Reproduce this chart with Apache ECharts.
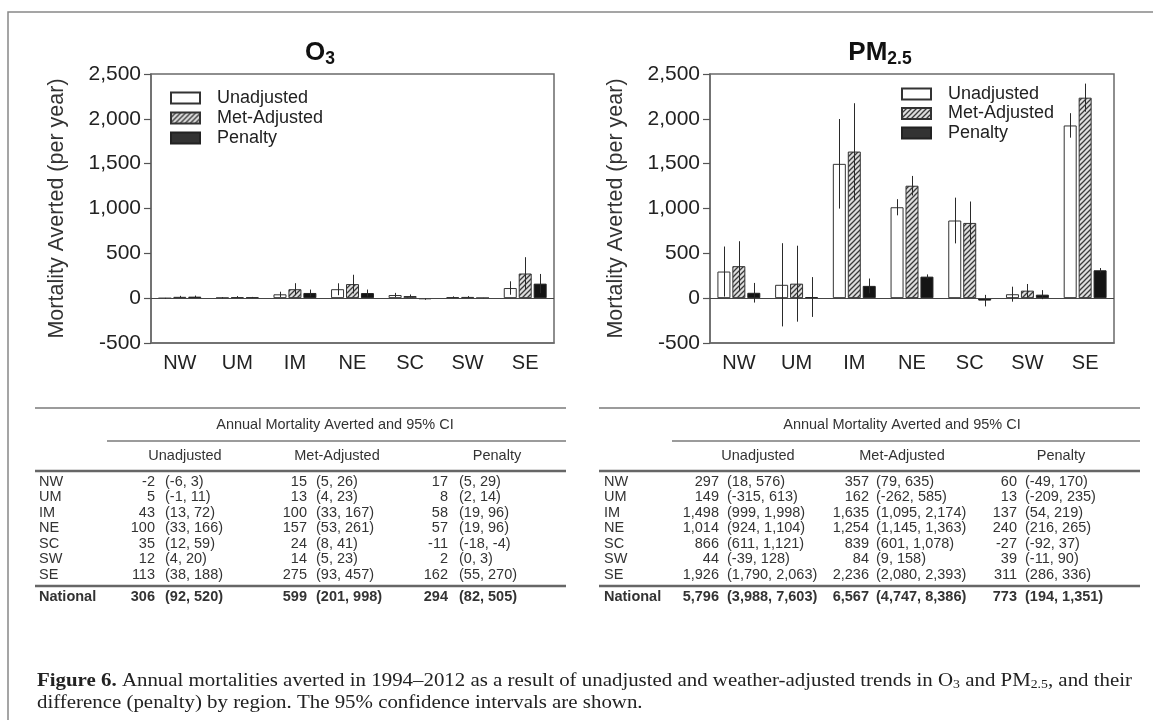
<!DOCTYPE html>
<html><head><meta charset="utf-8">
<script src="https://cdn.jsdelivr.net/npm/echarts@6/dist/echarts.min.js"></script>
<style>html,body{margin:0;padding:0;background:#fff;}#c{width:1153px;height:720px;}</style>
</head><body><div id="c"></div>
<script>
// ---------------- DATA ----------------
const regions = ['NW','UM','IM','NE','SC','SW','SE'];
const seriesNames = ['Unadjusted','Met-Adjusted','Penalty'];
const yTickMin = -500, yTickMax = 2500, yTickStep = 500;

// O3
const o3Unadj    = [-2, 5, 43, 100, 35, 12, 113];
const o3UnadjLo  = [-6, -1, 13, 33, 12, 4, 38];
const o3UnadjHi  = [3, 11, 72, 166, 59, 20, 188];
const o3Met      = [15, 13, 100, 157, 24, 14, 275];
const o3MetLo    = [5, 4, 33, 53, 8, 5, 93];
const o3MetHi    = [26, 23, 167, 261, 41, 23, 457];
const o3Pen      = [17, 8, 58, 57, -11, 2, 162];
const o3PenLo    = [5, 2, 19, 19, -18, 0, 55];
const o3PenHi    = [29, 14, 96, 96, -4, 3, 270];
const o3National   = [306, 599, 294];
const o3NationalLo = [92, 201, 82];
const o3NationalHi = [520, 998, 505];

// PM2.5
const pmUnadj    = [297, 149, 1498, 1014, 866, 44, 1926];
const pmUnadjLo  = [18, -315, 999, 924, 611, -39, 1790];
const pmUnadjHi  = [576, 613, 1998, 1104, 1121, 128, 2063];
const pmMet      = [357, 162, 1635, 1254, 839, 84, 2236];
const pmMetLo    = [79, -262, 1095, 1145, 601, 9, 2080];
const pmMetHi    = [635, 585, 2174, 1363, 1078, 158, 2393];
const pmPen      = [60, 13, 137, 240, -27, 39, 311];
const pmPenLo    = [-49, -209, 54, 216, -92, -11, 286];
const pmPenHi    = [170, 235, 219, 265, 37, 90, 336];
const pmNational   = [5796, 6567, 773];
const pmNationalLo = [3988, 4747, 194];
const pmNationalHi = [7603, 8386, 1351];

// ---------------- HELPERS ----------------
const SANS = '"Liberation Sans", Arial, sans-serif';
const SERIF = '"Liberation Serif", "Times New Roman", serif';
const BW = 13, GAPR = 0.15;
const commas = v => Number(v).toLocaleString('en-US');
const mctx = document.createElement('canvas').getContext('2d');
function tw(s, font){ mctx.font = font; return mctx.measureText(s).width; }

function makeHatch(){
  const n = 5;
  const c = document.createElement('canvas'); c.width = n; c.height = n;
  const g = c.getContext('2d');
  g.fillStyle = '#dedede'; g.fillRect(0,0,n,n);
  g.strokeStyle = '#3a3a3a'; g.lineWidth = 1.3;
  g.beginPath();
  g.moveTo(0,n); g.lineTo(n,0);
  g.moveTo(-1,1); g.lineTo(1,-1);
  g.moveTo(n-1,n+1); g.lineTo(n+1,n-1);
  g.stroke();
  return c;
}
const hatch = makeHatch();
const barStyles = [
  {color:'#ffffff', borderColor:'#333', borderWidth:1},
  {color:{image:hatch, repeat:'repeat'}, borderColor:'#333', borderWidth:1},
  {color:'#141414', borderColor:'#222', borderWidth:1}
];

function segLine(x, y, segs, targetWidth, fixedScale){
  let cx = 0; const children = [];
  segs.forEach(s => {
    const font = (s.bold ? 'bold ' : '') + s.size + 'px ' + s.family;
    children.push({type:'text', x:cx, y:(s.dy||0), style:{text:s.t, font:font, fill:s.color||'#222',
      textAlign:'left', align:'left', textVerticalAlign:'middle', verticalAlign:'middle'}});
    cx += tw(s.t, font);
  });
  const scale = fixedScale || (targetWidth ? targetWidth / cx : 1);
  return {el:{type:'group', x:x, y:y, scaleX:scale, children:children}, width:cx, scale:scale};
}
function txt(x, y, s, opt){
  opt = opt || {};
  const font = (opt.bold ? 'bold ' : '') + (opt.size||14.5) + 'px ' + (opt.family||SANS);
  return {type:'text', x:x, y:y, style:{text:s, font:font, fill:opt.color||'#333',
    textAlign:opt.align||'left', align:opt.align||'left', textVerticalAlign:'middle', verticalAlign:'middle'}};
}
function hline(x1, x2, y, w, c){
  return {type:'line', shape:{x1:x1, y1:y, x2:x2, y2:y}, style:{stroke:c||'#777', lineWidth:w||1.2}};
}

function errRender(params, api){
  const i = api.value(0), k = api.value(1);
  const lo = api.coord([i, api.value(2)]);
  const hi = api.coord([i, api.value(3)]);
  const off = (k - 1) * (BW + BW * GAPR);
  const x = Math.round(lo[0] + off) + 0.5;
  return {type:'line', shape:{x1:x, y1:lo[1], x2:x, y2:hi[1]}, style:{stroke:'#2a2a2a', lineWidth:1}};
}

function panelSeries(gi, vals, los, his){
  const out = [];
  vals.forEach((v, k) => {
    const s = {name:seriesNames[k], type:'bar', xAxisIndex:gi, yAxisIndex:gi, data:v,
      barWidth:BW, barGap:(GAPR*100)+'%', itemStyle:barStyles[k], z:2};
    if (k === 0) s.markLine = {silent:true, symbol:['none','none'], label:{show:false},
      lineStyle:{color:'#444', width:1.2, type:'solid'}, data:[{yAxis:0}]};
    out.push(s);
  });
  const ed = [];
  vals.forEach((v, k) => v.forEach((_, i) => ed.push([i, k, los[k][i], his[k][i]])));
  out.push({type:'custom', xAxisIndex:gi, yAxisIndex:gi, renderItem:errRender, data:ed, z:5,
    encode:{x:0, y:[2,3]}, silent:true});
  return out;
}

// ---------------- TABLES ----------------
function table(cfg, vals, los, his, nat, natLo, natHi){
  const g = [];
  g.push(hline(cfg.x0, cfg.x1, 408, 1.5, '#7a7a7a'));
  g.push(txt(cfg.superC, 425, 'Annual Mortality Averted and 95% CI', {align:'center'}));
  g.push(hline(cfg.superL, cfg.x1, 441, 1.5, '#7a7a7a'));
  seriesNames.forEach((n, k) => g.push(txt(cfg.headC[k], 456, n, {align:'center'})));
  g.push(hline(cfg.x0, cfg.x1, 471, 2.6, '#666'));
  const rowY = [481.5, 497, 512.5, 528, 543.5, 559, 574.5];
  regions.forEach((r, i) => {
    g.push(txt(cfg.labelX, rowY[i], r));
    for (let k = 0; k < 3; k++){
      g.push(txt(cfg.valR[k], rowY[i], commas(vals[k][i]), {align:'right'}));
      g.push(txt(cfg.ciL[k], rowY[i], '(' + commas(los[k][i]) + ', ' + commas(his[k][i]) + ')'));
    }
  });
  g.push(hline(cfg.x0, cfg.x1, 586, 2.6, '#666'));
  const ny = 596.5;
  g.push(txt(cfg.labelX, ny, 'National', {bold:true}));
  for (let k = 0; k < 3; k++){
    g.push(txt(cfg.valR[k], ny, commas(nat[k]), {align:'right', bold:true}));
    g.push(txt(cfg.ciL[k], ny, '(' + commas(natLo[k]) + ', ' + commas(natHi[k]) + ')', {bold:true}));
  }
  return g;
}
const leftTable = {x0:35, x1:566, superC:335, superL:107, headC:[185,337,497], labelX:39,
  valR:[155,307,448], ciL:[165,316,459]};
const rightTable = {x0:599, x1:1140, superC:902, superL:672, headC:[758,902,1061], labelX:604,
  valR:[719,869,1017], ciL:[727,876,1025]};

const graphics = [];
graphics.push({type:'rect', shape:{x:8, y:12, width:1300, height:900}, style:{fill:'none', stroke:'#888', lineWidth:1.5}, z:0});
// titles
[[320,'O','3'],[880,'PM','2.5']].forEach(t => {
  const segs = [{t:t[1], bold:true, size:26, family:SANS, color:'#111'}, {t:t[2], bold:true, size:17.5, family:SANS, color:'#111', dy:6.5}];
  const r = segLine(0, 52.5, segs);
  r.el.x = t[0] - r.width / 2;
  graphics.push(r.el);
});
table(leftTable, [o3Unadj,o3Met,o3Pen], [o3UnadjLo,o3MetLo,o3PenLo], [o3UnadjHi,o3MetHi,o3PenHi], o3National, o3NationalLo, o3NationalHi).forEach(e => graphics.push(e));
table(rightTable, [pmUnadj,pmMet,pmPen], [pmUnadjLo,pmMetLo,pmPenLo], [pmUnadjHi,pmMetHi,pmPenHi], pmNational, pmNationalLo, pmNationalHi).forEach(e => graphics.push(e));
// caption
const cs = 19;
const cap1 = segLine(37, 681, [
  {t:'Figure 6.', bold:true, size:cs, family:SERIF},
  {t:' Annual mortalities averted in 1994\u20132012 as a result of unadjusted and weather-adjusted trends in O', size:cs, family:SERIF},
  {t:'3', size:12.5, family:SERIF, dy:4},
  {t:' and PM', size:cs, family:SERIF},
  {t:'2.5', size:12.5, family:SERIF, dy:4},
  {t:', and their', size:cs, family:SERIF}
], 1095);
graphics.push(cap1.el);
const cap2 = segLine(37, 703, [{t:'difference (penalty) by region. The 95% confidence intervals are shown.', size:cs, family:SERIF}], null, cap1.scale);
graphics.push(cap2.el);

// ---------------- CHART ----------------
const gridBase = {top:74, height:269, show:true, borderColor:'#6a6a6a', borderWidth:1.5, backgroundColor:'transparent'};
const axisLineStyle = {color:'#6a6a6a', width:1.5};
const option = {
  animation:false,
  backgroundColor:'#fff',
  grid:[Object.assign({left:151, width:403}, gridBase), Object.assign({left:710, width:404}, gridBase)],
  xAxis:[0,1].map(i => ({type:'category', gridIndex:i, data:regions,
    axisLine:{show:true, onZero:false, lineStyle:axisLineStyle}, axisTick:{show:false},
    axisLabel:{color:'#222', fontSize:20, fontFamily:SANS, margin:10, interval:0}, splitLine:{show:false}})),
  yAxis:[0,1].map(i => ({type:'value', gridIndex:i, min:yTickMin, max:yTickMax, interval:yTickStep,
    name:'Mortality Averted (per year)', nameLocation:'middle', nameGap:83,
    nameTextStyle:{fontSize:21.5, color:'#333', fontFamily:SANS},
    axisLine:{show:true, lineStyle:axisLineStyle},
    axisTick:{show:true, length:7, lineStyle:{color:'#555', width:1.2}},
    axisLabel:{fontSize:21, color:'#222', fontFamily:SANS, margin:10, formatter:v => commas(v)},
    splitLine:{show:false}})),
  legend:[
    {left:165, top:84, orient:'vertical', itemWidth:29, itemHeight:11, itemGap:2, selectedMode:false, icon:'rect',
      data:[{name:'Unadjusted'},{name:'Met-Adjusted'},{name:'Penalty', itemStyle:{color:'#333'}}],
      textStyle:{fontSize:18, color:'#222', fontFamily:SANS, padding:[0,0,0,12], lineHeight:18}},
    {left:896, top:80, orient:'vertical', itemWidth:29, itemHeight:11, itemGap:1.5, selectedMode:false, icon:'rect',
      data:[{name:'Unadjusted'},{name:'Met-Adjusted'},{name:'Penalty', itemStyle:{color:'#333'}}],
      textStyle:{fontSize:18, color:'#222', fontFamily:SANS, padding:[0,0,0,12], lineHeight:18}}
  ],
  series:[].concat(
    panelSeries(0, [o3Unadj,o3Met,o3Pen], [o3UnadjLo,o3MetLo,o3PenLo], [o3UnadjHi,o3MetHi,o3PenHi]),
    panelSeries(1, [pmUnadj,pmMet,pmPen], [pmUnadjLo,pmMetLo,pmPenLo], [pmUnadjHi,pmMetHi,pmPenHi])
  ),
  graphic:graphics
};
const chart = echarts.init(document.getElementById('c'), null, {renderer:'canvas'});
chart.setOption(option);
</script></body></html>
